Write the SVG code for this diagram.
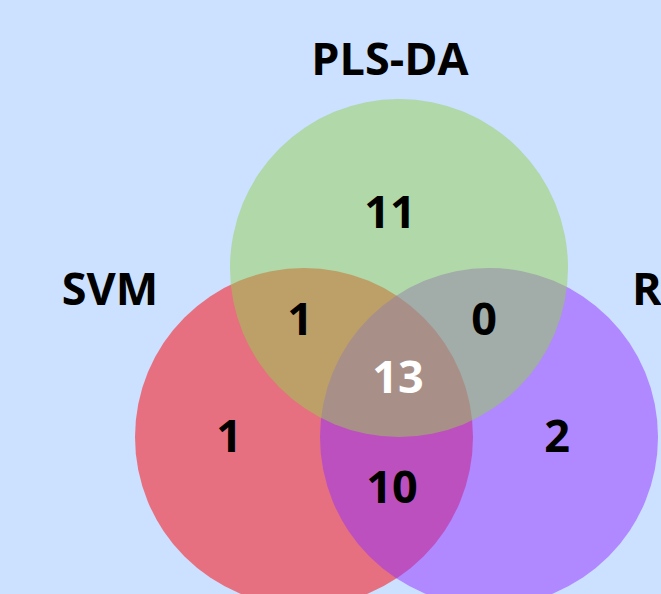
<svg xmlns="http://www.w3.org/2000/svg" width="661" height="594" viewBox="0 0 661 594">
<style>
.c{opacity:0.5}
.t{font-family:"Open Sans","DejaVu Sans",sans-serif;font-weight:bold;font-size:45px;text-anchor:middle;fill:#000}
.w{fill:#fff}
</style>
<rect width="661" height="594" fill="#cce0ff"/>
<g id="svm"><circle class="c" cx="304" cy="437" r="169" fill="#ff0000"/></g>
<g id="rf"><circle class="c" cx="489" cy="437" r="169" fill="#9430ff"/></g>
<g id="plsda"><circle class="c" cx="399" cy="268" r="169" fill="#94d051"/></g>
<g id="connectors"></g>
<g id="labels">
<text class="t" x="390" y="75">PLS-DA</text>
<text class="t" x="110" y="305">SVM</text>
<text class="t" x="632" y="305" style="text-anchor:start">R</text>
<text class="t" x="390" y="228">11</text>
<text class="t" x="300" y="335">1</text>
<text class="t" x="484" y="335">0</text>
<text class="t w" x="398" y="393">13</text>
<text class="t" x="229" y="452">1</text>
<text class="t" x="557" y="452">2</text>
<text class="t" x="392" y="503">10</text>
</g>
</svg>
